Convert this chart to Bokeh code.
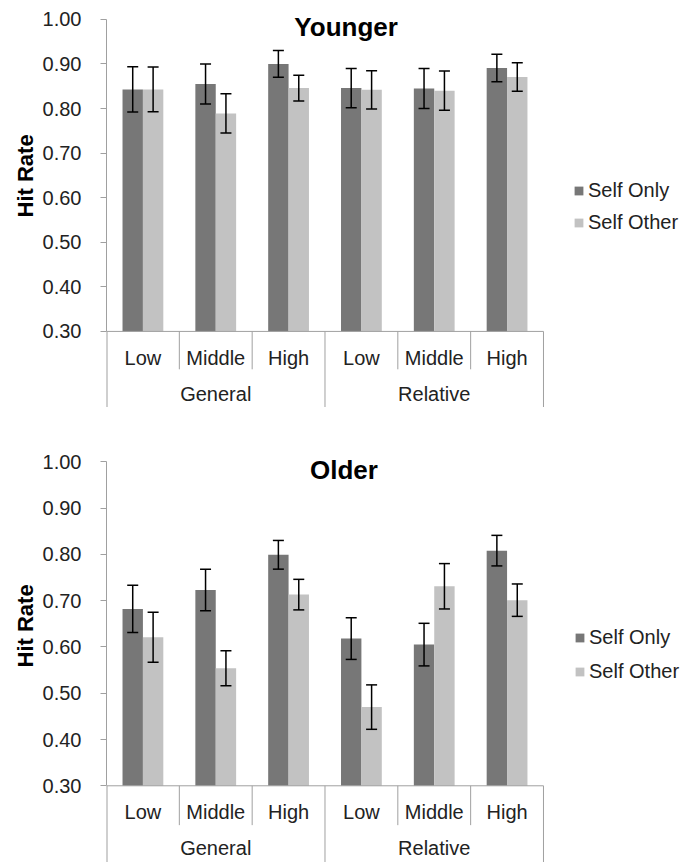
from bokeh.plotting import figure
from bokeh.models import (ColumnDataSource, Range1d, FixedTicker, NumeralTickFormatter,
                          Whisker, TeeHead, Legend, LegendItem, Title)
from bokeh.layouts import column
from bokeh.core.properties import value
from bokeh.embed import file_html
from bokeh.resources import INLINE

# ---------------- data ----------------
groups = ["General", "Relative"]
levels = ["Low", "Middle", "High"]
series_names = ["Self Only", "Self Other"]
y_ticks = [0.30, 0.40, 0.50, 0.60, 0.70, 0.80, 0.90, 1.00]

young_self_only = [0.843, 0.855, 0.900, 0.846, 0.845, 0.891]
young_self_only_err = [0.051, 0.045, 0.030, 0.044, 0.045, 0.031]
young_self_other = [0.843, 0.789, 0.846, 0.842, 0.840, 0.871]
young_self_other_err = [0.050, 0.044, 0.029, 0.043, 0.044, 0.032]

old_self_only = [0.682, 0.723, 0.799, 0.618, 0.605, 0.808]
old_self_only_err = [0.051, 0.045, 0.031, 0.045, 0.046, 0.033]
old_self_other = [0.621, 0.554, 0.713, 0.470, 0.731, 0.701]
old_self_other_err = [0.054, 0.038, 0.033, 0.048, 0.049, 0.035]

# ---------------- style ----------------
FONT = "Liberation Sans"
DARK = "#777777"
LIGHT = "#c2c2c2"
AXIS = "#a0a0a0"
TEXT = "#222222"
BAR_W = 0.28
OFF = 0.14


def make_chart(title, s1, e1, s2, e2, height, border_top, y_start, title_xy,
               lvl_y, grp_y, legend_loc, legend_spacing, ylabel_offset):
    n = len(groups) * len(levels)
    p = figure(width=685, height=height, output_backend="svg", toolbar_location=None,
               x_range=Range1d(0, 7.95), y_range=Range1d(y_start, 1.02),
               x_axis_location=None, min_border_left=106, min_border_right=0,
               min_border_top=border_top, min_border_bottom=0)
    p.outline_line_color = None
    p.grid.visible = False
    p.background_fill_color = "white"

    xs = [i + 0.5 for i in range(n)]
    src1 = ColumnDataSource(dict(x=[x - OFF for x in xs], top=s1,
                                 upper=[a + b for a, b in zip(s1, e1)],
                                 lower=[a - b for a, b in zip(s1, e1)]))
    src2 = ColumnDataSource(dict(x=[x + OFF for x in xs], top=s2,
                                 upper=[a + b for a, b in zip(s2, e2)],
                                 lower=[a - b for a, b in zip(s2, e2)]))
    r1 = p.vbar(x="x", top="top", bottom=0.30, width=BAR_W, source=src1,
                fill_color=DARK, line_color=None)
    r2 = p.vbar(x="x", top="top", bottom=0.30, width=BAR_W, source=src2,
                fill_color=LIGHT, line_color=None)
    for src in (src1, src2):
        w = Whisker(source=src, base="x", upper="upper", lower="lower",
                    line_color="black", line_width=1.5, level="annotation",
                    upper_head=TeeHead(size=11, line_color="black", line_width=1.5),
                    lower_head=TeeHead(size=11, line_color="black", line_width=1.5))
        p.add_layout(w)

    # y axis
    ax = p.yaxis[0]
    ax.bounds = (0.30, 1.00)
    ax.ticker = FixedTicker(ticks=y_ticks, minor_ticks=[])
    ax.formatter = NumeralTickFormatter(format="0.00")
    ax.axis_line_color = AXIS
    ax.major_tick_line_color = AXIS
    ax.major_tick_out = 6
    ax.major_tick_in = 0
    ax.minor_tick_line_color = None
    ax.major_label_standoff = 19
    ax.major_label_text_font = FONT
    ax.major_label_text_font_size = "20px"
    ax.major_label_text_color = TEXT

    # y axis title (positioned along the 0.30-1.00 span)
    p.add_layout(Title(text="Hit Rate", align="left", offset=ylabel_offset,
                       text_font=FONT, text_font_size="22px", text_font_style="bold",
                       text_color="black", standoff=4), "left")

    # category axis drawn in data space
    p.segment(x0=[0], y0=[0.30], x1=[n], y1=[0.30], line_color=AXIS, line_width=1)
    p.segment(x0=[0], y0=[y_start], x1=[0], y1=[0.30], line_color=AXIS, line_width=2)
    short_x = [g * len(levels) + k for g in range(len(groups)) for k in range(1, len(levels))]
    long_x = [g * len(levels) for g in range(1, len(groups) + 1)]
    p.segment(x0=short_x, y0=[0.30] * len(short_x), x1=short_x, y1=[0.215] * len(short_x),
              line_color=AXIS, line_width=1)
    p.segment(x0=long_x, y0=[0.30] * len(long_x), x1=long_x, y1=[y_start] * len(long_x),
              line_color=AXIS, line_width=1)
    lvl_labels = levels * len(groups)
    p.text(x=xs, y=[lvl_y] * n, text=lvl_labels, text_font=value(FONT),
           text_font_size="20px", text_color=TEXT, text_align="center", text_baseline="middle")
    gx = [g * len(levels) + len(levels) / 2 for g in range(len(groups))]
    p.text(x=gx, y=[grp_y] * len(groups), text=groups, text_font=value(FONT),
           text_font_size="20px", text_color=TEXT, text_align="center", text_baseline="middle")

    # chart title
    p.text(x=[title_xy[0]], y=[title_xy[1]], text=[title], text_font=value(FONT),
           text_font_size="26px", text_font_style="bold", text_color="black",
           text_align="center", text_baseline="middle")

    legend = Legend(items=[LegendItem(label=series_names[0], renderers=[r1]),
                           LegendItem(label=series_names[1], renderers=[r2])],
                    location=legend_loc, orientation="vertical",
                    glyph_width=11, glyph_height=11, label_standoff=4,
                    label_text_font=FONT, label_text_font_size="20px",
                    label_text_color=TEXT, label_height=22, spacing=legend_spacing,
                    padding=0, margin=0, border_line_color=None,
                    background_fill_alpha=0)
    p.add_layout(legend)
    return p


p1 = make_chart("Younger", young_self_only, young_self_only_err,
                young_self_other, young_self_other_err,
                height=407, border_top=10, y_start=0.1293,
                title_xy=(3.29, 0.983), lvl_y=0.2394, grp_y=0.1586,
                legend_loc=(467, 173), legend_spacing=9, ylabel_offset=190)
p2 = make_chart("Older", old_self_only, old_self_only_err,
                old_self_other, old_self_other_err,
                height=455, border_top=45, y_start=0.1343,
                title_xy=(3.26, 0.982), lvl_y=0.244, grp_y=0.1654,
                legend_loc=(468, 179), legend_spacing=11, ylabel_offset=195)

layout = column(p1, p2, spacing=0)
open("out.html", "w").write(file_html(layout, INLINE))
